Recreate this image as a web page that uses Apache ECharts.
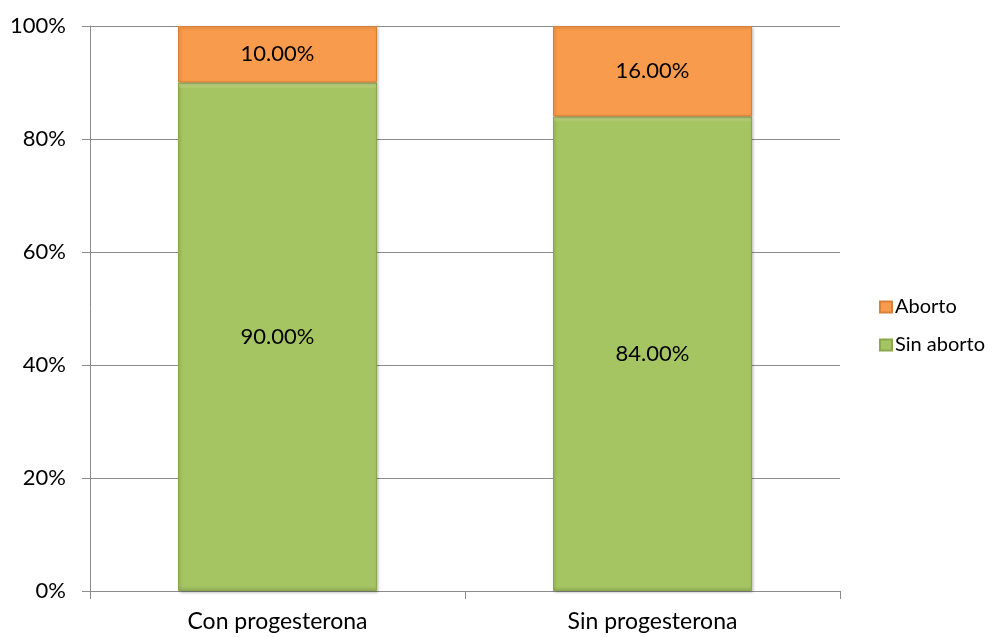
<!DOCTYPE html>
<html>
<head>
<meta charset="utf-8">
<script src="https://cdn.jsdelivr.net/npm/echarts@6/dist/echarts.min.js"></script>
<style>
  html, body { margin: 0; padding: 0; background: #fff; }
  #chart { width: 993px; height: 637px; }
</style>
</head>
<body>
<div id="chart"></div>
<script>
// Share of pregnancies by outcome, with and without progesterone
const categories = ['Con progesterona', 'Sin progesterona'];
const sinAborto = [90, 84];
const aborto = [10, 16];
const yTicks = [0, 20, 40, 60, 80, 100];

const FONT = 'Lato, "Open Sans", sans-serif';

// vertical gradient giving each segment a light top edge
function bevel(top, base, bottom) {
  return new echarts.graphic.LinearGradient(0, 0, 0, 1, [
    { offset: 0, color: top },
    { offset: 0.012, color: base },
    { offset: 0.99, color: base },
    { offset: 1, color: bottom }
  ]);
}

const chart = echarts.init(document.getElementById('chart'), null, { renderer: 'canvas' });

chart.setOption({
  animation: false,
  backgroundColor: '#ffffff',
  textStyle: { fontFamily: FONT },
  grid: { left: 90, right: 153, top: 26, bottom: 46, containLabel: false },
  legend: {
    orient: 'vertical',
    left: 879,
    top: 297,
    padding: 0,
    itemWidth: 12,
    itemHeight: 11,
    itemGap: 18,
    icon: 'rect',
    textStyle: { fontFamily: FONT, fontSize: 20, lineHeight: 20, color: '#000', padding: [0, 0, 0, -2] },
    data: ['Aborto', 'Sin aborto']
  },
  xAxis: {
    type: 'category',
    data: categories,
    axisLine: { show: true, lineStyle: { color: '#8c8c8c', width: 1 } },
    axisTick: { show: true, length: 8, alignWithLabel: false, lineStyle: { color: '#8c8c8c' } },
    axisLabel: { fontFamily: FONT, fontSize: 23, color: '#000', margin: 19 }
  },
  yAxis: {
    type: 'value',
    min: 0,
    max: 100,
    interval: 20,
    axisLine: { show: true, lineStyle: { color: '#8c8c8c', width: 1 } },
    axisTick: { show: true, length: 8, lineStyle: { color: '#8c8c8c' } },
    splitLine: { show: true, lineStyle: { color: '#8c8c8c', width: 1 } },
    axisLabel: {
      fontFamily: FONT, fontSize: 22, color: '#000', margin: 24,
      formatter: v => (yTicks.includes(v) ? v + '%' : '')
    }
  },
  series: [
    {
      name: 'Sin aborto',
      type: 'bar',
      stack: 'total',
      barWidth: 199,
      data: sinAborto,
      itemStyle: {
        color: bevel('#d4e69a', '#a5c462', '#92b056'),
        borderColor: '#8aa84e',
        borderWidth: 1,
        shadowColor: 'rgba(0,0,0,0.25)',
        shadowBlur: 3,
        shadowOffsetX: 1,
        shadowOffsetY: 1
      },
      label: {
        show: true,
        position: 'inside',
        fontFamily: FONT,
        fontSize: 22,
        color: '#000',
        formatter: p => p.value.toFixed(2) + '%'
      }
    },
    {
      name: 'Aborto',
      type: 'bar',
      stack: 'total',
      barWidth: 199,
      data: aborto,
      itemStyle: {
        color: bevel('#fcc57f', '#f99b4c', '#d47b36'),
        borderColor: '#d98237',
        borderWidth: 1,
        shadowColor: 'rgba(0,0,0,0.25)',
        shadowBlur: 3,
        shadowOffsetX: 1,
        shadowOffsetY: 1
      },
      label: {
        show: true,
        position: 'inside',
        fontFamily: FONT,
        fontSize: 22,
        color: '#000',
        formatter: p => p.value.toFixed(2) + '%'
      }
    }
  ]
});
</script>
</body>
</html>
